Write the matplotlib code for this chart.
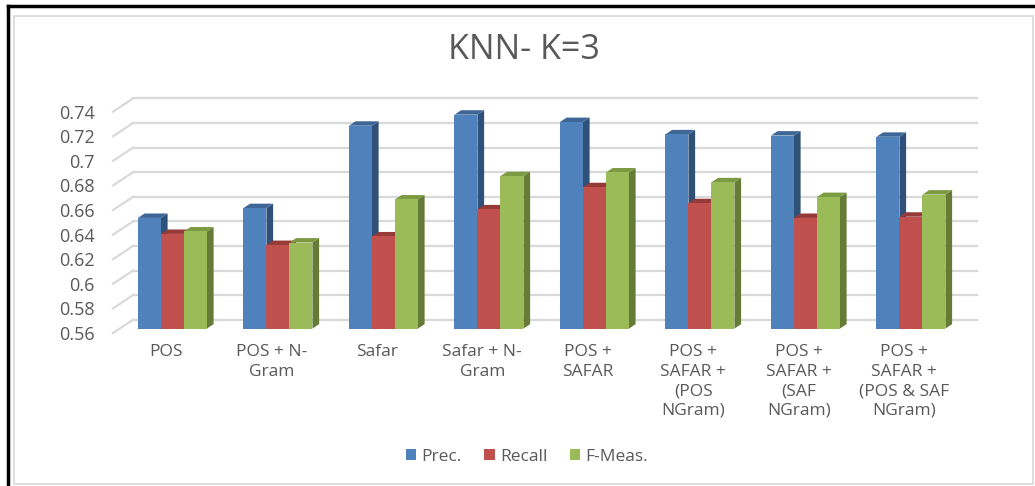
#!/usr/bin/env python3
"""KNN (K=3) precision / recall / F-measure per feature set, Excel-style 3D columns."""

import matplotlib

matplotlib.use("Agg")
import matplotlib.pyplot as plt
import numpy as np
from matplotlib.lines import Line2D
from matplotlib.patches import Patch, Polygon, Rectangle

plt.rcParams["font.family"] = ["Open Sans", "DejaVu Sans"]

categories = [
    "POS",
    "POS + N-\nGram",
    "Safar",
    "Safar + N-\nGram",
    "POS +\nSAFAR",
    "POS +\nSAFAR +\n(POS\nNGram)",
    "POS +\nSAFAR +\n(SAF\nNGram)",
    "POS +\nSAFAR +\n(POS & SAF\nNGram)",
]
prec = [0.650, 0.658, 0.725, 0.734, 0.728, 0.718, 0.717, 0.716]
recall = [0.637, 0.628, 0.635, 0.657, 0.675, 0.662, 0.650, 0.651]
fmeas = [0.639, 0.630, 0.665, 0.684, 0.687, 0.679, 0.667, 0.669]
series_names = ["Prec.", "Recall", "F-Meas."]
y_ticks = [0.56, 0.58, 0.60, 0.62, 0.64, 0.66, 0.68, 0.70, 0.72, 0.74]

# front / top / side shades
COLORS = [
    ("#4F81BD", "#3E6798", "#2F5079"),
    ("#C0504D", "#963A37", "#8C3835"),
    ("#9BBB59", "#7C9A42", "#667C36"),
]
TEXT = "#595959"
GRID = "#D9D9D9"

YMIN, YMAX = 0.56, 0.74
DX, DY = 0.19, 0.0108  # full depth of the floor, in data units
BAR_W = 0.218

fig = plt.figure(figsize=(10.35, 4.86), dpi=100)
ax = fig.add_axes([113 / 1035, 1 - 333 / 486, 844 / 1035, 221.3 / 486])
ax.set_xlim(0, len(categories))
ax.set_ylim(YMIN, YMAX)
for s in ax.spines.values():
    s.set_visible(False)

# back wall gridlines + left wall diagonals
for v in y_ticks:
    ax.plot([DX, len(categories) + DX], [v + DY, v + DY], color=GRID, lw=1.6,
            clip_on=False, zorder=1)
    ax.plot([0, DX], [v, v + DY], color=GRID, lw=1.6, clip_on=False, zorder=1)

dx, dy = DX / 3, DY / 3
x = np.arange(len(categories)) + 0.5
z = 2
for i in range(len(categories)):
    for j, vals in enumerate([prec, recall, fmeas]):
        front, top_c, side_c = COLORS[j]
        x0 = x[i] - 1.5 * BAR_W + j * BAR_W + dx
        base = YMIN + dy
        top = vals[i] + dy
        side = Polygon([(x0 + BAR_W, base), (x0 + BAR_W, top),
                        (x0 + BAR_W + dx, top + dy), (x0 + BAR_W + dx, base + dy)],
                       closed=True, facecolor=side_c, edgecolor="none",
                       clip_on=False, zorder=z)
        lid = Polygon([(x0, top), (x0 + BAR_W, top),
                       (x0 + BAR_W + dx, top + dy), (x0 + dx, top + dy)],
                      closed=True, facecolor=top_c, edgecolor="none",
                      clip_on=False, zorder=z)
        ax.add_patch(side)
        ax.add_patch(lid)
        ax.bar(x0, vals[i] - YMIN, width=BAR_W, bottom=base, align="edge",
               color=front, edgecolor="none", zorder=z + 1, clip_on=False)
        z += 2

ax.set_yticks(y_ticks)
ax.set_yticklabels([f"{round(v, 2):g}" for v in y_ticks])
ax.set_xticks(x)
ax.set_xticklabels(categories, linespacing=1.3)
ax.tick_params(axis="y", length=0, pad=13, labelsize=13, labelcolor=TEXT)
ax.tick_params(axis="x", length=0, pad=8, labelsize=12.5, labelcolor=TEXT)

fig.text(524 / 1035, 1 - 50 / 486, "KNN- K=3", ha="center", va="center",
         fontsize=24.5, color=TEXT)

handles = [Patch(facecolor=c[0], edgecolor="none") for c in COLORS]
fig.legend(handles, series_names, loc="center", bbox_to_anchor=(527 / 1035, 1 - 457 / 486),
           ncol=3, frameon=False, fontsize=12.5, labelcolor=TEXT, handlelength=0.6,
           handleheight=0.6, handletextpad=0.3, columnspacing=1.3)

# chart border and the screenshot frame
fig.patches.append(Rectangle((14 / 1035, 2 / 486), 1019 / 1035, 468 / 486,
                             transform=fig.transFigure, fill=False,
                             edgecolor="#D9D9D9", lw=1.2))
fig.lines.append(Line2D([8 / 1035, 8 / 1035], [0, 1 - 6 / 486], transform=fig.transFigure,
                        color="black", lw=2.5))
fig.lines.append(Line2D([8 / 1035, 1], [1 - 6 / 486, 1 - 6 / 486], transform=fig.transFigure,
                        color="black", lw=2.5))

fig.savefig("out.png", dpi=100)
